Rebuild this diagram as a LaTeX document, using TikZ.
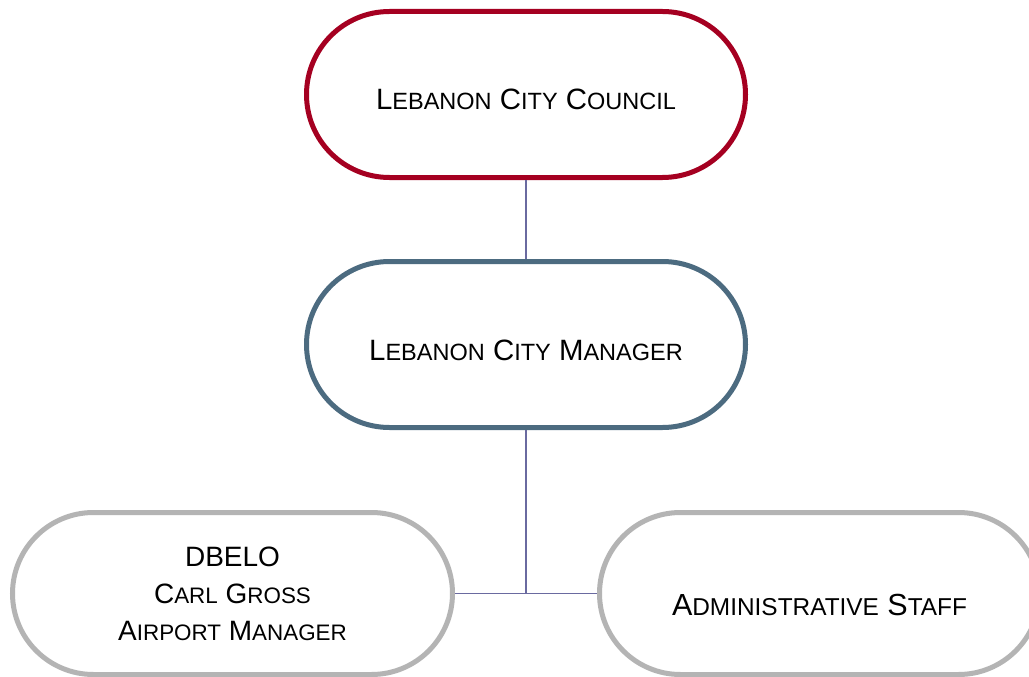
\documentclass[tikz,border=0pt]{standalone}
\usepackage{fontspec}
\setmainfont{Liberation Sans}
\usepackage{graphicx}

% fake small capitals
\newcommand{\lo}[1]{\scalebox{0.8}{#1}}

\definecolor{councilred}{RGB}{165,0,33}
\definecolor{managerblue}{RGB}{76,107,128}
\definecolor{staffgray}{RGB}{180,180,180}
\definecolor{linkblue}{RGB}{106,106,160}

\tikzset{
  pill/.style={draw, fill=white, line width=5pt, inner sep=0pt, align=center, text=black},
  toppill/.style={pill, minimum width=439pt, minimum height=166pt, rounded corners=83pt,
    text height=31pt, text depth=0pt, font=\fontsize{29.4}{35}\selectfont},
  lowpill/.style={pill, draw=staffgray, minimum width=440pt, minimum height=162pt, rounded corners=81pt},
  link/.style={draw=linkblue, line width=1.6pt}
}

\begin{document}
\begin{tikzpicture}[x=1pt, y=-1pt]
	% Fix the page size
	\fill[white] (0,0) rectangle (1029,677);
	\useasboundingbox (0,0) rectangle (1029,677);

	% Council on top, manager below it
	\node[toppill, draw=councilred] (council) at (526,94.5) {L\lo{EBANON} C\lo{ITY} C\lo{OUNCIL}};
	\node[toppill, draw=managerblue] (manager) at (526,344.5) {L\lo{EBANON} C\lo{ITY} M\lo{ANAGER}};

	% Two boxes at the bottom (the right one runs off the page)
	\node[lowpill, font=\fontsize{28}{37}\selectfont] (dbelo) at (232.5,593.5) {DBELO\\C\lo{ARL} G\lo{ROSS}\\A\lo{IRPORT} M\lo{ANAGER}};
	\node[lowpill, text height=44pt, text depth=0pt, font=\fontsize{30.5}{36}\selectfont] (staff) at (819.5,593.5) {A\lo{DMINISTRATIVE} S\lo{TAFF}};

	% Connectors
	\coordinate (split) at (manager.south |- dbelo.east);
	\draw[link] (council.south) -- (manager.north);
	\draw[link] (manager.south) -- (split);
	\draw[link] (dbelo.east) -- (split) -- (staff.west);
\end{tikzpicture}
\end{document}
